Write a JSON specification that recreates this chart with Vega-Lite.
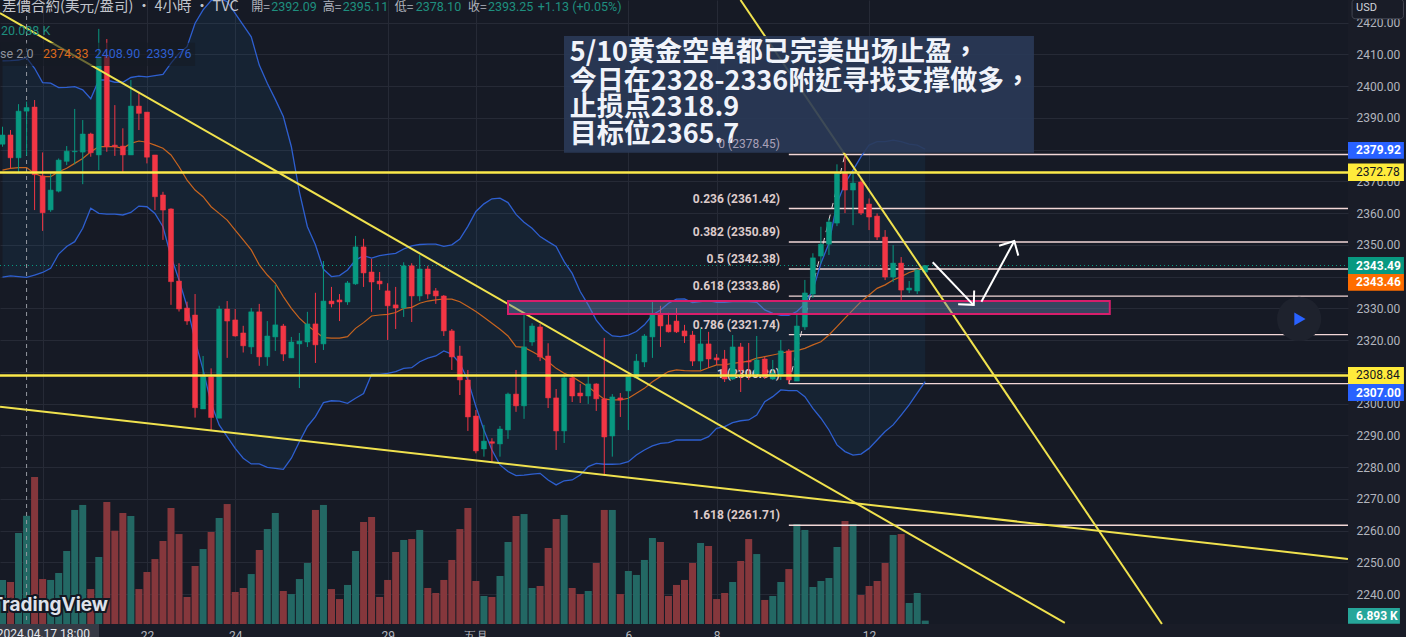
{"$schema":"https://vega.github.io/schema/vega-lite/v6.json","width":1348,"height":624,"padding":{"left":0,"top":0,"right":58,"bottom":13},"autosize":{"type":"none"},"background":"#191c27","config":{"view":{"fill":"#161a25","stroke":null}},
"datasets":{"c":[
{"i":0,"o":2381.7,"h":2387.2,"l":2380.9,"c":2384.6,"d":"up","v":50.8,"u":2407.9,"lo":2339.8,"m":2373.55},
{"i":1,"o":2384.6,"h":2386.15,"l":2374.1,"c":2377.4,"d":"down","v":48.6,"u":2408.0,"lo":2340.2,"m":2374.1},
{"i":2,"o":2377.4,"h":2394.3,"l":2372.7,"c":2392.1,"d":"up","v":101.5,"u":2408.2,"lo":2340.0,"m":2374.3},
{"i":3,"o":2392.09,"h":2395.11,"l":2378.1,"c":2393.25,"d":"up","v":120.088,"u":2408.9,"lo":2339.76,"m":2374.33},
{"i":4,"o":2393.4,"h":2395.6,"l":2360.95,"c":2372.1,"d":"down","v":162,"u":2405.6,"lo":2340.5,"m":2372.5},
{"i":5,"o":2371.7,"h":2379.1,"l":2354.4,"c":2360.1,"d":"down","v":51.8,"u":2401.1,"lo":2341.3,"m":2371.45},
{"i":6,"o":2361.0,"h":2372.5,"l":2360.4,"c":2367.25,"d":"up","v":50.8,"u":2400.9,"lo":2342.6,"m":2371.45},
{"i":7,"o":2366.9,"h":2377.2,"l":2366.5,"c":2376.7,"d":"up","v":58.3,"u":2399.5,"lo":2347.1,"m":2373.0},
{"i":8,"o":2376.3,"h":2381.1,"l":2375.1,"c":2379.5,"d":"up","v":82.1,"u":2399.6,"lo":2349.5,"m":2374.1},
{"i":9,"o":2379.3,"h":2392.8,"l":2375.4,"c":2379.5,"d":"up","v":126.4,"u":2399.8,"lo":2351.0,"m":2375.65},
{"i":10,"o":2379.2,"h":2389.3,"l":2369.1,"c":2384.9,"d":"up","v":131.8,"u":2398.8,"lo":2355.2,"m":2377.2},
{"i":11,"o":2384.9,"h":2385.3,"l":2377.75,"c":2379.0,"d":"down","v":41,"u":2396.0,"lo":2361.5,"m":2379.3},
{"i":12,"o":2378.3,"h":2418.0,"l":2373.55,"c":2409.25,"d":"up","v":75.6,"u":2401.9,"lo":2359.9,"m":2380.9},
{"i":13,"o":2409.25,"h":2414.8,"l":2379.3,"c":2380.9,"d":"down","v":135,"u":2401.9,"lo":2359.7,"m":2380.9},
{"i":14,"o":2381.4,"h":2394.0,"l":2378.0,"c":2380.9,"d":"down","v":104,"u":2401.2,"lo":2359.7,"m":2380.9},
{"i":15,"o":2381.1,"h":2386.7,"l":2373.0,"c":2378.3,"d":"down","v":123.1,"u":2401.2,"lo":2359.4,"m":2380.4},
{"i":16,"o":2378.3,"h":2401.9,"l":2378.3,"c":2393.7,"d":"up","v":119.9,"u":2402.7,"lo":2360.2,"m":2381.95},
{"i":17,"o":2393.7,"h":2398.2,"l":2386.15,"c":2391.4,"d":"down","v":41,"u":2403.1,"lo":2362.2,"m":2382.7},
{"i":18,"o":2391.8,"h":2391.8,"l":2375.65,"c":2377.6,"d":"down","v":59.4,"u":2402.9,"lo":2362.0,"m":2382.3},
{"i":19,"o":2378.3,"h":2378.3,"l":2360.95,"c":2365.15,"d":"down","v":73.4,"u":2403.3,"lo":2359.9,"m":2381.4},
{"i":20,"o":2365.7,"h":2366.7,"l":2351.55,"c":2360.95,"d":"down","v":92.9,"u":2403.7,"lo":2355.7,"m":2380.4},
{"i":21,"o":2361.3,"h":2361.5,"l":2331.1,"c":2338.4,"d":"down","v":128.5,"u":2407.2,"lo":2346.3,"m":2378.3},
{"i":22,"o":2338.6,"h":2344.2,"l":2329.0,"c":2329.8,"d":"down","v":100.4,"u":2410.3,"lo":2338.95,"m":2374.6},
{"i":23,"o":2330.1,"h":2332.1,"l":2324.8,"c":2326.0,"d":"down","v":32.4,"u":2412.4,"lo":2330.6,"m":2370.4},
{"i":24,"o":2327.9,"h":2334.5,"l":2295.6,"c":2298.7,"d":"down","v":65.9,"u":2419.8,"lo":2320.0,"m":2367.25},
{"i":25,"o":2298.3,"h":2315.0,"l":2298.3,"c":2308.5,"d":"up","v":84.2,"u":2424.0,"lo":2310.6,"m":2365.15},
{"i":26,"o":2308.4,"h":2311.1,"l":2291.5,"c":2295.6,"d":"down","v":102.6,"u":2426.9,"lo":2300.1,"m":2362.0},
{"i":27,"o":2295.4,"h":2330.8,"l":2295.4,"c":2329.8,"d":"up","v":117.7,"u":2427.6,"lo":2293.3,"m":2359.9},
{"i":28,"o":2329.8,"h":2332.3,"l":2314.4,"c":2326.0,"d":"down","v":132.8,"u":2426.6,"lo":2289.6,"m":2357.8},
{"i":29,"o":2326.35,"h":2329.8,"l":2321.1,"c":2321.3,"d":"down","v":37.8,"u":2422.9,"lo":2285.9,"m":2354.65},
{"i":30,"o":2322.25,"h":2324.5,"l":2316.1,"c":2318.2,"d":"down","v":42.1,"u":2419.2,"lo":2282.8,"m":2351.55},
{"i":31,"o":2317.85,"h":2330.1,"l":2315.6,"c":2328.9,"d":"up","v":57.2,"u":2415.5,"lo":2281.0,"m":2348.4},
{"i":32,"o":2328.9,"h":2331.4,"l":2311.9,"c":2314.7,"d":"down","v":83.2,"u":2406.6,"lo":2281.0,"m":2343.7},
{"i":33,"o":2314.7,"h":2326.0,"l":2311.9,"c":2321.3,"d":"up","v":105.8,"u":2400.9,"lo":2279.9,"m":2340.5},
{"i":34,"o":2321.0,"h":2337.4,"l":2316.6,"c":2324.8,"d":"up","v":123.1,"u":2395.8,"lo":2279.6,"m":2337.9},
{"i":35,"o":2324.45,"h":2325.1,"l":2313.4,"c":2315.6,"d":"down","v":38.9,"u":2390.4,"lo":2279.3,"m":2333.7},
{"i":36,"o":2314.4,"h":2321.0,"l":2314.4,"c":2319.4,"d":"up","v":35.6,"u":2380.9,"lo":2282.8,"m":2330.0},
{"i":37,"o":2318.8,"h":2322.25,"l":2304.9,"c":2319.7,"d":"up","v":51.8,"u":2366.7,"lo":2288.0,"m":2326.9},
{"i":38,"o":2319.4,"h":2328.9,"l":2317.85,"c":2325.1,"d":"up","v":69.1,"u":2355.7,"lo":2292.8,"m":2324.6},
{"i":39,"o":2325.1,"h":2334.9,"l":2312.8,"c":2318.5,"d":"down","v":126.4,"u":2350.0,"lo":2295.9,"m":2322.7},
{"i":40,"o":2318.8,"h":2344.9,"l":2316.9,"c":2332.3,"d":"up","v":131.8,"u":2342.3,"lo":2300.3,"m":2320.8},
{"i":41,"o":2332.3,"h":2336.75,"l":2330.3,"c":2331.4,"d":"down","v":41,"u":2340.0,"lo":2300.9,"m":2320.6},
{"i":42,"o":2332.65,"h":2334.5,"l":2326.0,"c":2332.0,"d":"down","v":30.2,"u":2340.3,"lo":2300.8,"m":2320.6},
{"i":43,"o":2332.0,"h":2338.6,"l":2331.1,"c":2338.0,"d":"up","v":45.4,"u":2342.1,"lo":2300.1,"m":2321.1},
{"i":44,"o":2337.7,"h":2352.8,"l":2337.4,"c":2349.35,"d":"up","v":82.1,"u":2345.2,"lo":2301.7,"m":2323.7},
{"i":45,"o":2349.35,"h":2351.9,"l":2336.75,"c":2341.15,"d":"down","v":113.4,"u":2346.6,"lo":2303.2,"m":2325.5},
{"i":46,"o":2341.45,"h":2345.6,"l":2328.9,"c":2338.3,"d":"down","v":118.8,"u":2345.8,"lo":2309.2,"m":2327.6},
{"i":47,"o":2338.6,"h":2341.45,"l":2335.8,"c":2337.7,"d":"down","v":32.4,"u":2346.6,"lo":2309.2,"m":2327.9},
{"i":48,"o":2335.5,"h":2337.9,"l":2320.05,"c":2330.8,"d":"down","v":50.8,"u":2347.0,"lo":2309.5,"m":2328.1},
{"i":49,"o":2331.1,"h":2336.75,"l":2323.5,"c":2330.1,"d":"down","v":81,"u":2347.3,"lo":2310.1,"m":2328.7},
{"i":50,"o":2330.1,"h":2344.5,"l":2327.3,"c":2343.4,"d":"up","v":94,"u":2348.7,"lo":2311.1,"m":2330.0},
{"i":51,"o":2343.4,"h":2344.2,"l":2325.7,"c":2333.9,"d":"down","v":95,"u":2349.7,"lo":2311.3,"m":2330.3},
{"i":52,"o":2333.9,"h":2346.8,"l":2332.3,"c":2342.4,"d":"up","v":104.8,"u":2350.1,"lo":2313.2,"m":2331.6},
{"i":53,"o":2342.4,"h":2343.4,"l":2333.0,"c":2334.5,"d":"down","v":42.1,"u":2350.2,"lo":2314.3,"m":2332.3},
{"i":54,"o":2335.5,"h":2336.4,"l":2331.4,"c":2333.9,"d":"down","v":36.7,"u":2350.2,"lo":2315.0,"m":2332.65},
{"i":55,"o":2333.9,"h":2334.2,"l":2321.3,"c":2322.9,"d":"down","v":50.8,"u":2349.5,"lo":2316.6,"m":2332.95},
{"i":56,"o":2322.9,"h":2323.5,"l":2310.6,"c":2314.7,"d":"down","v":72.4,"u":2350.0,"lo":2315.6,"m":2332.9},
{"i":57,"o":2315.0,"h":2318.2,"l":2302.7,"c":2307.45,"d":"down","v":105.8,"u":2351.8,"lo":2312.7,"m":2332.1},
{"i":58,"o":2307.45,"h":2310.6,"l":2291.4,"c":2295.8,"d":"down","v":128.5,"u":2355.8,"lo":2307.4,"m":2330.55},
{"i":59,"o":2296.1,"h":2298.0,"l":2284.35,"c":2285.1,"d":"down","v":49.7,"u":2360.5,"lo":2299.1,"m":2329.0},
{"i":60,"o":2285.7,"h":2293.3,"l":2283.3,"c":2288.2,"d":"up","v":33.5,"u":2362.9,"lo":2291.7,"m":2327.2},
{"i":61,"o":2288.0,"h":2289.1,"l":2281.4,"c":2287.5,"d":"down","v":32.4,"u":2364.5,"lo":2285.4,"m":2325.3},
{"i":62,"o":2287.3,"h":2292.95,"l":2283.3,"c":2292.0,"d":"up","v":55.1,"u":2364.7,"lo":2280.7,"m":2323.4},
{"i":63,"o":2291.7,"h":2303.45,"l":2288.9,"c":2303.0,"d":"up","v":91.8,"u":2363.3,"lo":2278.6,"m":2321.3},
{"i":64,"o":2303.0,"h":2310.6,"l":2297.4,"c":2299.3,"d":"down","v":119.9,"u":2359.6,"lo":2277.3,"m":2317.95},
{"i":65,"o":2299.3,"h":2327.9,"l":2295.2,"c":2317.85,"d":"up","v":122,"u":2357.1,"lo":2277.5,"m":2317.7},
{"i":66,"o":2319.4,"h":2325.3,"l":2318.2,"c":2324.45,"d":"up","v":42.1,"u":2355.2,"lo":2277.8,"m":2316.4},
{"i":67,"o":2324.15,"h":2325.1,"l":2313.4,"c":2314.7,"d":"down","v":44.3,"u":2352.6,"lo":2278.05,"m":2315.0},
{"i":68,"o":2315.0,"h":2319.0,"l":2298.6,"c":2301.8,"d":"down","v":85.3,"u":2351.0,"lo":2275.95,"m":2313.2},
{"i":69,"o":2301.8,"h":2304.6,"l":2285.4,"c":2291.4,"d":"down","v":116.6,"u":2349.5,"lo":2274.4,"m":2311.1},
{"i":70,"o":2291.4,"h":2309.0,"l":2287.6,"c":2308.1,"d":"up","v":121,"u":2344.7,"lo":2275.7,"m":2309.55},
{"i":71,"o":2308.1,"h":2309.3,"l":2300.5,"c":2302.4,"d":"down","v":42.1,"u":2341.0,"lo":2275.95,"m":2308.5},
{"i":72,"o":2303.35,"h":2306.2,"l":2300.2,"c":2302.4,"d":"down","v":35.6,"u":2335.3,"lo":2277.5,"m":2306.9},
{"i":73,"o":2302.4,"h":2309.0,"l":2299.9,"c":2306.2,"d":"up","v":38.9,"u":2331.1,"lo":2280.15,"m":2305.35},
{"i":74,"o":2306.2,"h":2306.4,"l":2297.7,"c":2301.5,"d":"down","v":69.1,"u":2326.3,"lo":2281.2,"m":2303.25},
{"i":75,"o":2301.5,"h":2320.7,"l":2277.2,"c":2289.5,"d":"down","v":126.4,"u":2323.2,"lo":2280.9,"m":2301.4},
{"i":76,"o":2289.8,"h":2303.0,"l":2283.3,"c":2302.1,"d":"up","v":126.4,"u":2321.3,"lo":2280.9,"m":2301.15},
{"i":77,"o":2301.8,"h":2303.35,"l":2295.8,"c":2301.15,"d":"down","v":35.6,"u":2321.1,"lo":2281.0,"m":2301.15},
{"i":78,"o":2304.0,"h":2309.0,"l":2291.7,"c":2308.4,"d":"up","v":60.5,"u":2321.6,"lo":2281.7,"m":2301.7},
{"i":79,"o":2308.1,"h":2315.6,"l":2308.1,"c":2313.4,"d":"up","v":56.2,"u":2322.7,"lo":2283.8,"m":2303.25},
{"i":80,"o":2313.1,"h":2321.9,"l":2311.5,"c":2321.3,"d":"up","v":72.4,"u":2324.8,"lo":2285.4,"m":2304.8},
{"i":81,"o":2321.0,"h":2332.0,"l":2314.4,"c":2327.9,"d":"up","v":96.1,"u":2327.9,"lo":2286.7,"m":2306.9},
{"i":82,"o":2328.25,"h":2330.8,"l":2317.85,"c":2324.45,"d":"down","v":91.8,"u":2329.5,"lo":2287.5,"m":2308.5},
{"i":83,"o":2324.8,"h":2328.6,"l":2322.4,"c":2322.6,"d":"down","v":33.5,"u":2331.6,"lo":2287.7,"m":2310.1},
{"i":84,"o":2326.0,"h":2330.1,"l":2322.25,"c":2322.6,"d":"down","v":45.4,"u":2332.9,"lo":2288.55,"m":2310.6},
{"i":85,"o":2322.9,"h":2324.8,"l":2319.1,"c":2321.3,"d":"down","v":50.8,"u":2333.0,"lo":2288.55,"m":2310.4},
{"i":86,"o":2321.6,"h":2322.9,"l":2311.85,"c":2313.4,"d":"down","v":69.1,"u":2331.8,"lo":2288.55,"m":2310.3},
{"i":87,"o":2313.4,"h":2323.8,"l":2310.6,"c":2318.8,"d":"up","v":90.7,"u":2332.1,"lo":2288.55,"m":2310.3},
{"i":88,"o":2318.8,"h":2322.6,"l":2311.2,"c":2314.05,"d":"down","v":87.5,"u":2332.4,"lo":2289.6,"m":2311.3},
{"i":89,"o":2314.4,"h":2315.6,"l":2312.2,"c":2313.75,"d":"down","v":30.2,"u":2331.9,"lo":2292.2,"m":2312.2},
{"i":90,"o":2314.05,"h":2316.9,"l":2306.8,"c":2307.75,"d":"down","v":36.7,"u":2331.9,"lo":2292.75,"m":2312.2},
{"i":91,"o":2307.75,"h":2321.6,"l":2307.45,"c":2317.85,"d":"up","v":48.6,"u":2332.1,"lo":2294.0,"m":2312.7},
{"i":92,"o":2317.85,"h":2319.1,"l":2303.65,"c":2310.6,"d":"down","v":71.3,"u":2332.1,"lo":2294.6,"m":2313.0},
{"i":93,"o":2313.4,"h":2319.1,"l":2307.45,"c":2313.1,"d":"down","v":95,"u":2332.1,"lo":2294.85,"m":2313.4},
{"i":94,"o":2309.3,"h":2321.3,"l":2308.7,"c":2313.75,"d":"up","v":78.8,"u":2331.9,"lo":2296.4,"m":2314.3},
{"i":95,"o":2314.05,"h":2314.7,"l":2307.75,"c":2308.4,"d":"down","v":29.2,"u":2329.5,"lo":2300.6,"m":2314.8},
{"i":96,"o":2307.75,"h":2313.75,"l":2307.45,"c":2309.55,"d":"up","v":33.5,"u":2328.4,"lo":2302.2,"m":2315.3},
{"i":97,"o":2309.3,"h":2320.05,"l":2307.45,"c":2316.6,"d":"up","v":48.6,"u":2327.8,"lo":2304.3,"m":2315.85},
{"i":98,"o":2316.6,"h":2317.2,"l":2306.2,"c":2307.45,"d":"down","v":62.6,"u":2327.8,"lo":2304.1,"m":2316.4},
{"i":99,"o":2307.1,"h":2328.45,"l":2307.1,"c":2324.45,"d":"up","v":111.2,"u":2329.0,"lo":2304.1,"m":2316.7},
{"i":100,"o":2324.15,"h":2338.95,"l":2323.2,"c":2334.85,"d":"up","v":104.8,"u":2331.4,"lo":2302.2,"m":2317.4},
{"i":101,"o":2334.5,"h":2347.35,"l":2333.3,"c":2345.9,"d":"up","v":43.2,"u":2335.8,"lo":2298.5,"m":2318.5},
{"i":102,"o":2346.45,"h":2355.7,"l":2344.15,"c":2350.2,"d":"up","v":49.7,"u":2344.2,"lo":2295.4,"m":2319.5},
{"i":103,"o":2350.2,"h":2358.3,"l":2346.8,"c":2357.2,"d":"up","v":52.9,"u":2350.5,"lo":2291.7,"m":2321.6},
{"i":104,"o":2356.85,"h":2375.35,"l":2355.9,"c":2372.5,"d":"up","v":86.4,"u":2363.05,"lo":2287.0,"m":2324.25},
{"i":105,"o":2372.5,"h":2378.8,"l":2360.0,"c":2367.25,"d":"down","v":114.5,"u":2369.4,"lo":2284.9,"m":2326.9},
{"i":106,"o":2367.25,"h":2373.0,"l":2356.2,"c":2369.45,"d":"up","v":111.2,"u":2373.5,"lo":2283.8,"m":2329.5},
{"i":107,"o":2369.8,"h":2370.9,"l":2359.4,"c":2360.0,"d":"down","v":34.6,"u":2377.8,"lo":2284.1,"m":2332.1},
{"i":108,"o":2362.85,"h":2364.6,"l":2354.65,"c":2358.75,"d":"down","v":44.3,"u":2381.4,"lo":2285.9,"m":2334.2},
{"i":109,"o":2359.05,"h":2359.9,"l":2351.5,"c":2352.45,"d":"down","v":49.7,"u":2382.5,"lo":2288.55,"m":2336.3},
{"i":110,"o":2352.45,"h":2354.65,"l":2338.9,"c":2339.85,"d":"down","v":69.1,"u":2382.5,"lo":2291.2,"m":2337.4},
{"i":111,"o":2339.85,"h":2349.9,"l":2338.25,"c":2344.25,"d":"up","v":99.4,"u":2383.0,"lo":2293.3,"m":2338.95},
{"i":112,"o":2344.25,"h":2346.15,"l":2332.6,"c":2335.75,"d":"down","v":100.4,"u":2382.5,"lo":2296.4,"m":2340.0},
{"i":113,"o":2335.75,"h":2338.6,"l":2334.8,"c":2336.4,"d":"up","v":25.9,"u":2381.7,"lo":2299.6,"m":2341.3},
{"i":114,"o":2335.45,"h":2342.35,"l":2334.5,"c":2342.05,"d":"up","v":36.7,"u":2381.4,"lo":2303.3,"m":2342.1},
{"i":115,"o":2341.4,"h":2343.6,"l":2341.4,"c":2343.49,"d":"up","v":6.893,"u":2380.1,"lo":2306.9,"m":2343.46}
],
"tags":[
{"t":"2379.92","i":167.69,"i2":174.66,"x0":168.7,"p":2382.39,"p2":2377.13,"q":2379.8,"k":"blue"},
{"t":"2372.78","i":167.69,"i2":174.66,"x0":168.7,"p":2375.62,"p2":2370.11,"q":2372.8,"k":"yellow"},
{"t":"2343.49","i":167.69,"i2":174.66,"x0":168.7,"p":2346.18,"p2":2340.83,"q":2343.49,"k":"green"},
{"t":"2343.46","i":167.69,"i2":174.66,"x0":168.7,"p":2340.83,"p2":2335.57,"q":2338.2,"k":"orange"},
{"t":"2308.84","i":167.69,"i2":174.66,"x0":168.7,"p":2311.55,"p2":2306.19,"q":2308.87,"k":"yellow"},
{"t":"2307.00","i":167.69,"i2":174.66,"x0":168.7,"p":2306.19,"p2":2300.84,"q":2303.5,"k":"blue"},
{"t":"6.893 K","i":167.69,"i2":174.16,"x0":168.7,"p":2235.67,"p2":2230.7,"q":2233.2,"k":"teal"}
],
"fib":[
{"t":"0.236 (2361.42)","p":2361.42,"i":96.9,"a":98,"b":167.69},{"t":"0.382 (2350.89)","p":2350.89,"i":96.9,"a":98,"b":167.69},{"t":"0.5 (2342.38)","p":2342.38,"i":96.9,"a":98,"b":167.69},{"t":"0.618 (2333.86)","p":2333.86,"i":96.9,"a":98,"b":167.69},{"t":"0.786 (2321.74)","p":2321.74,"i":96.9,"a":98,"b":167.69},{"t":"1 (2306.30)","p":2306.3,"i":96.9,"a":98,"b":167.69},{"t":"1.618 (2261.71)","p":2261.71,"i":96.9,"a":98,"b":167.69},{"t":"","p":2378.45,"i":96.9,"a":98,"b":167.69}
]},
"encoding":{"x":{"field":"i","type":"quantitative","scale":{"domain":[-0.3116,167.69],"nice":false,"zero":false,"padding":0},"title":null,"axis":{"values":[5,18,29,48,59,78,89,108],"grid":true,"gridColor":"#262a36","gridWidth":1,"ticks":false,"domain":false,"labelExpr":"datum.value==18?'22':datum.value==29?'24':datum.value==48?'29':datum.value==59?'五月':datum.value==78?'6':datum.value==89?'8':datum.value==108?'12':''","labelFont":"Roboto","labelFontSize":12,"labelColor":"#b2b5be","labelPadding":6,"labelBaseline":"top","labelOverlap":false,"labelFlush":false,"title":null}}},
"layer":[
{"data":{"name":"c"},"mark":{"type":"bar","orient":"vertical","size":7,"clip":true},"encoding":{"y":{"field":"v","type":"quantitative","scale":{"domain":[3.24,677.16],"nice":false,"zero":false},"axis":null},"y2":{"datum":0},"color":{"field":"d","type":"nominal","scale":{"domain":["up","down"],"range":["#236864","#85373c"]},"legend":null}}},
{"encoding":{"y":{"field":"p","type":"quantitative","scale":{"domain":[2230.6,2427.1],"nice":false,"zero":false},"title":null,"axis":{"values":[2240,2250,2260,2270,2280,2290,2300,2310,2320,2330,2340,2350,2360,2370,2380,2390,2400,2410,2420],"orient":"right","grid":true,"gridColor":"#262a36","gridWidth":1,"ticks":false,"domain":false,"format":".2f","labelFont":"Roboto","labelFontSize":12,"labelColor":"#b2b5be","labelPadding":8,"labelOverlap":false,"labelFlush":false,"title":null}}},
"layer":[
{"data":{"name":"c"},"mark":{"type":"area","color":"#2196f3","opacity":0.07},"encoding":{"y":{"field":"u"},"y2":{"field":"lo"}}},
{"data":{"values":[{"i":3,"p":2427.1,"p2":2230.6}]},"mark":{"type":"rule","color":"#9598a1","strokeDash":[4,4],"strokeWidth":1},"encoding":{"y2":{"field":"p2"}}},
{"data":{"values":[{"i":-0.3116,"p":2343.49},{"i":167.69,"p":2343.49}]},"mark":{"type":"line","color":"#089981","strokeDash":[1,3],"strokeWidth":1}},
{"data":{"name":"fib"},"mark":{"type":"text","align":"right","baseline":"middle","dy":-10,"font":"Roboto","fontSize":12,"fontWeight":"bold","color":"#dccaca"},"encoding":{"text":{"field":"t"}}},
{"data":{"name":"fib"},"mark":{"type":"rule","color":"#f2d7d7","strokeWidth":1.4},"encoding":{"x":{"field":"a"},"x2":{"field":"b"}}},
{"data":{"name":"c"},"mark":{"type":"line","color":"#2e5fd0","strokeWidth":1.3},"encoding":{"y":{"field":"u"}}},
{"data":{"name":"c"},"mark":{"type":"line","color":"#2e5fd0","strokeWidth":1.3},"encoding":{"y":{"field":"lo"}}},
{"data":{"name":"c"},"mark":{"type":"line","color":"#c7641f","strokeWidth":1.2},"encoding":{"y":{"field":"m"}}},
{"data":{"values":[{"i":98,"p":2306.3},{"i":105,"p":2378.45}]},"mark":{"type":"line","color":"#e6d5d5","strokeDash":[6,6],"strokeWidth":1}},
{"data":{"name":"c"},"mark":{"type":"rule","strokeWidth":1},"encoding":{"y":{"field":"h"},"y2":{"field":"l"},"color":{"field":"d","type":"nominal","scale":{"domain":["up","down","blue","yellow","green","orange","teal"],"range":["#089981","#f23645","#2962ff","#ffeb3b","#089981","#ff6d00","#26a69a"]},"legend":null}}},
{"data":{"name":"c"},"mark":{"type":"bar","orient":"vertical","size":5,"strokeWidth":0.5},"encoding":{"y":{"field":"o"},"y2":{"field":"c"},"color":{"field":"d","type":"nominal","scale":{"domain":["up","down","blue","yellow","green","orange","teal"],"range":["#089981","#f23645","#2962ff","#ffeb3b","#089981","#ff6d00","#26a69a"]},"legend":null},"stroke":{"field":"d","type":"nominal","scale":{"domain":["up","down"],"range":["#089981","#f23645"]},"legend":null}}},
{"data":{"values":[{"n":"h1","i":-0.3116,"p":2372.78},{"n":"h1","i":167.69,"p":2372.78},{"n":"h2","i":-0.3116,"p":2308.84},{"n":"h2","i":167.69,"p":2308.84}]},"mark":{"type":"line","color":"#fbe94a","strokeWidth":2.4},"encoding":{"detail":{"field":"n"}}},
{"data":{"values":[{"n":"a","i":-0.31,"p":2423.0},{"n":"a","i":132.4,"p":2230.96},{"n":"b","i":91.98,"p":2427.1},{"n":"b","i":144.5,"p":2230.6},{"n":"c","i":-0.31,"p":2299.05},{"n":"c","i":167.68,"p":2251.1}]},"mark":{"type":"line","color":"#f0e24e","strokeWidth":2},"encoding":{"detail":{"field":"n"}}},
{"data":{"values":[{"i":-0.31,"i2":24,"p":2413.6,"p2":2406.3}]},"mark":{"type":"rect","color":"#161a25","opacity":0.6},"encoding":{"x2":{"field":"i2"},"y2":{"field":"p2"}}},
{"data":{"values":[{"i":63,"i2":138,"p":2332.3,"p2":2328.2}]},"mark":{"type":"rect","fill":"#6a80b0","fillOpacity":0.42,"stroke":"#d81e6c","strokeWidth":2},"encoding":{"x2":{"field":"i2"},"y2":{"field":"p2"}}},
{"data":{"values":[{"n":"s1","o":1,"i":115.93,"p":2344.5},{"n":"s1","o":2,"i":121.0,"p":2331.1},{"n":"h1","o":1,"i":119.1,"p":2331.3},{"n":"h1","o":2,"i":121.05,"p":2331.1},{"n":"h1","o":3,"i":121.1,"p":2335.6},{"n":"s2","o":1,"i":122.0,"p":2332.1},{"n":"s2","o":2,"i":126.1,"p":2351.2},{"n":"h2","o":1,"i":124.2,"p":2349.7},{"n":"h2","o":2,"i":126.1,"p":2351.2},{"n":"h2","o":3,"i":126.6,"p":2346.6}]},"mark":{"type":"line","color":"#ffffff","strokeWidth":2},"encoding":{"detail":{"field":"n"},"order":{"field":"o"}}},
{"data":{"values":[{"i":69.98,"i2":128.55,"p":2415.77,"p2":2379.02}]},"mark":{"type":"rect","color":"#2a3a58","opacity":0.9},"encoding":{"x2":{"field":"i2"},"y2":{"field":"p2"}}},
{"data":{"values":[{"i":70.7,"p":2410.3,"t":"5/10黄金空单都已完美出场止盈，"},{"i":70.7,"p":2401.4,"t":"今日在2328-2336附近寻找支撑做多，"},{"i":70.7,"p":2393.1,"t":"止损点2318.9"},{"i":70.7,"p":2384.6,"t":"目标位2365.7"}]},"mark":{"type":"text","align":"left","baseline":"middle","font":"Noto Sans CJK TC","fontSize":27,"fontWeight":"bold","color":"#f0f3fa"},"encoding":{"text":{"field":"t"}}},
{"data":{"values":[{"i":96.9,"p":2381.6,"t":"0 (2378.45)"}]},"mark":{"type":"text","align":"right","baseline":"middle","font":"Roboto","fontSize":12,"color":"#a8a0b8"},"encoding":{"text":{"field":"t"}}},
{"data":{"values":[{"i":161.6,"p":2326.66}]},"mark":{"type":"point","filled":true,"shape":"circle","size":1960,"color":"#1e222d","opacity":1}},
{"data":{"values":[{"i":161.7,"p":2326.66}]},"mark":{"type":"point","filled":true,"shape":"triangle-right","size":170,"color":"#2962ff","opacity":1}},
{"data":{"name":"tags"},"mark":{"type":"rect"},"encoding":{"x2":{"field":"i2"},"y2":{"field":"p2"},"color":{"field":"k","type":"nominal","scale":{"domain":["up","down","blue","yellow","green","orange","teal"],"range":["#089981","#f23645","#2962ff","#ffeb3b","#089981","#ff6d00","#26a69a"]},"legend":null}}},
{"data":{"name":"tags"},"transform":[{"filter":"datum.k!='yellow'"}],"mark":{"type":"text","align":"left","baseline":"middle","font":"Roboto","fontSize":12,"fontWeight":"bold","color":"#ffffff"},"encoding":{"x":{"field":"x0"},"y":{"field":"q"},"text":{"field":"t"}}},
{"data":{"name":"tags"},"transform":[{"filter":"datum.k=='yellow'"}],"mark":{"type":"text","align":"left","baseline":"middle","font":"Roboto","fontSize":12,"color":"#131722"},"encoding":{"x":{"field":"x0"},"y":{"field":"q"},"text":{"field":"t"}}},
{"data":{"values":[{"i":168.2,"i2":174.6,"p":2427.3,"p2":2421.2}]},"mark":{"type":"rect","fill":"#191c27","stroke":"#434651","strokeWidth":1,"cornerRadius":3},"encoding":{"x2":{"field":"i2"},"y2":{"field":"p2"}}},
{"data":{"values":[{"i":168.7,"p":2424.7,"t":"USD"}]},"mark":{"type":"text","align":"left","baseline":"middle","font":"Roboto","fontSize":11,"color":"#d1d4dc"},"encoding":{"text":{"field":"t"}}},
{"data":{"values":[{"i":-0.31,"i2":12.03,"p":2230.6,"p2":2226.5}]},"mark":{"type":"rect","color":"#363a45"},"encoding":{"x2":{"field":"i2"},"y2":{"field":"p2"}}},
{"data":{"values":[{"i":10.9,"p":2228.9,"t":"2024.04.17  18:00"}]},"mark":{"type":"text","align":"right","baseline":"top","font":"Roboto","fontSize":12,"color":"#e6e8ee"},"encoding":{"text":{"field":"t"}}},
{"data":{"values":[{"i":13.15,"p":2236.6,"t":"TradingView"}]},"mark":{"type":"text","align":"right","baseline":"middle","font":"Inter","fontSize":19,"fontWeight":"bold","color":"#131722","stroke":"#131722","strokeWidth":4},"encoding":{"text":{"field":"t"}}},
{"data":{"values":[{"i":13.15,"p":2236.6,"t":"TradingView"}]},"mark":{"type":"text","align":"right","baseline":"middle","font":"Inter","fontSize":19,"fontWeight":"bold","color":"#dfe2ea"},"encoding":{"text":{"field":"t"}}},
{"data":{"values":[{"i":-0.06,"p":2424.9,"t":"差價合約(美元/盎司) · 4小時 · TVC"}]},"mark":{"type":"text","align":"left","baseline":"middle","font":"Noto Sans CJK TC","fontSize":14.5,"color":"#c2c5cc"},"encoding":{"text":{"field":"t"}}},
{"data":{"values":[{"i":31,"p":2424.9,"t":"開="},{"i":39.9,"p":2424.9,"t":"高="},{"i":48.9,"p":2424.9,"t":"低="},{"i":58,"p":2424.9,"t":"收="}]},"mark":{"type":"text","align":"left","baseline":"middle","font":"Noto Sans CJK TC","fontSize":12,"color":"#b2b5be"},"encoding":{"text":{"field":"t"}}},
{"data":{"values":[{"i":33.5,"p":2424.9,"t":"2392.09"},{"i":42.4,"p":2424.9,"t":"2395.11"},{"i":51.5,"p":2424.9,"t":"2378.10"},{"i":60.5,"p":2424.9,"t":"2393.25"},{"i":66.7,"p":2424.9,"t":"+1.13 (+0.05%)"},{"i":-0.19,"p":2417.3,"t":"20.088 K"}]},"mark":{"type":"text","align":"left","baseline":"middle","font":"Roboto","fontSize":12.5,"color":"#1f8f7f"},"encoding":{"text":{"field":"t"}}},
{"data":{"values":[{"i":-0.31,"p":2410.1,"t":"se 2.0"}]},"mark":{"type":"text","align":"left","baseline":"middle","font":"Roboto","fontSize":12.5,"color":"#8f929c"},"encoding":{"text":{"field":"t"}}},
{"data":{"values":[{"i":5.05,"p":2410.1,"t":"2374.33"}]},"mark":{"type":"text","align":"left","baseline":"middle","font":"Roboto","fontSize":12.5,"color":"#d9691c"},"encoding":{"text":{"field":"t"}}},
{"data":{"values":[{"i":11.5,"p":2410.1,"t":"2408.90"},{"i":17.9,"p":2410.1,"t":"2339.76"}]},"mark":{"type":"text","align":"left","baseline":"middle","font":"Roboto","fontSize":12.5,"color":"#2e5fd0"},"encoding":{"text":{"field":"t"}}}
]}
],
"resolve":{"scale":{"y":"independent","color":"independent"}}}
